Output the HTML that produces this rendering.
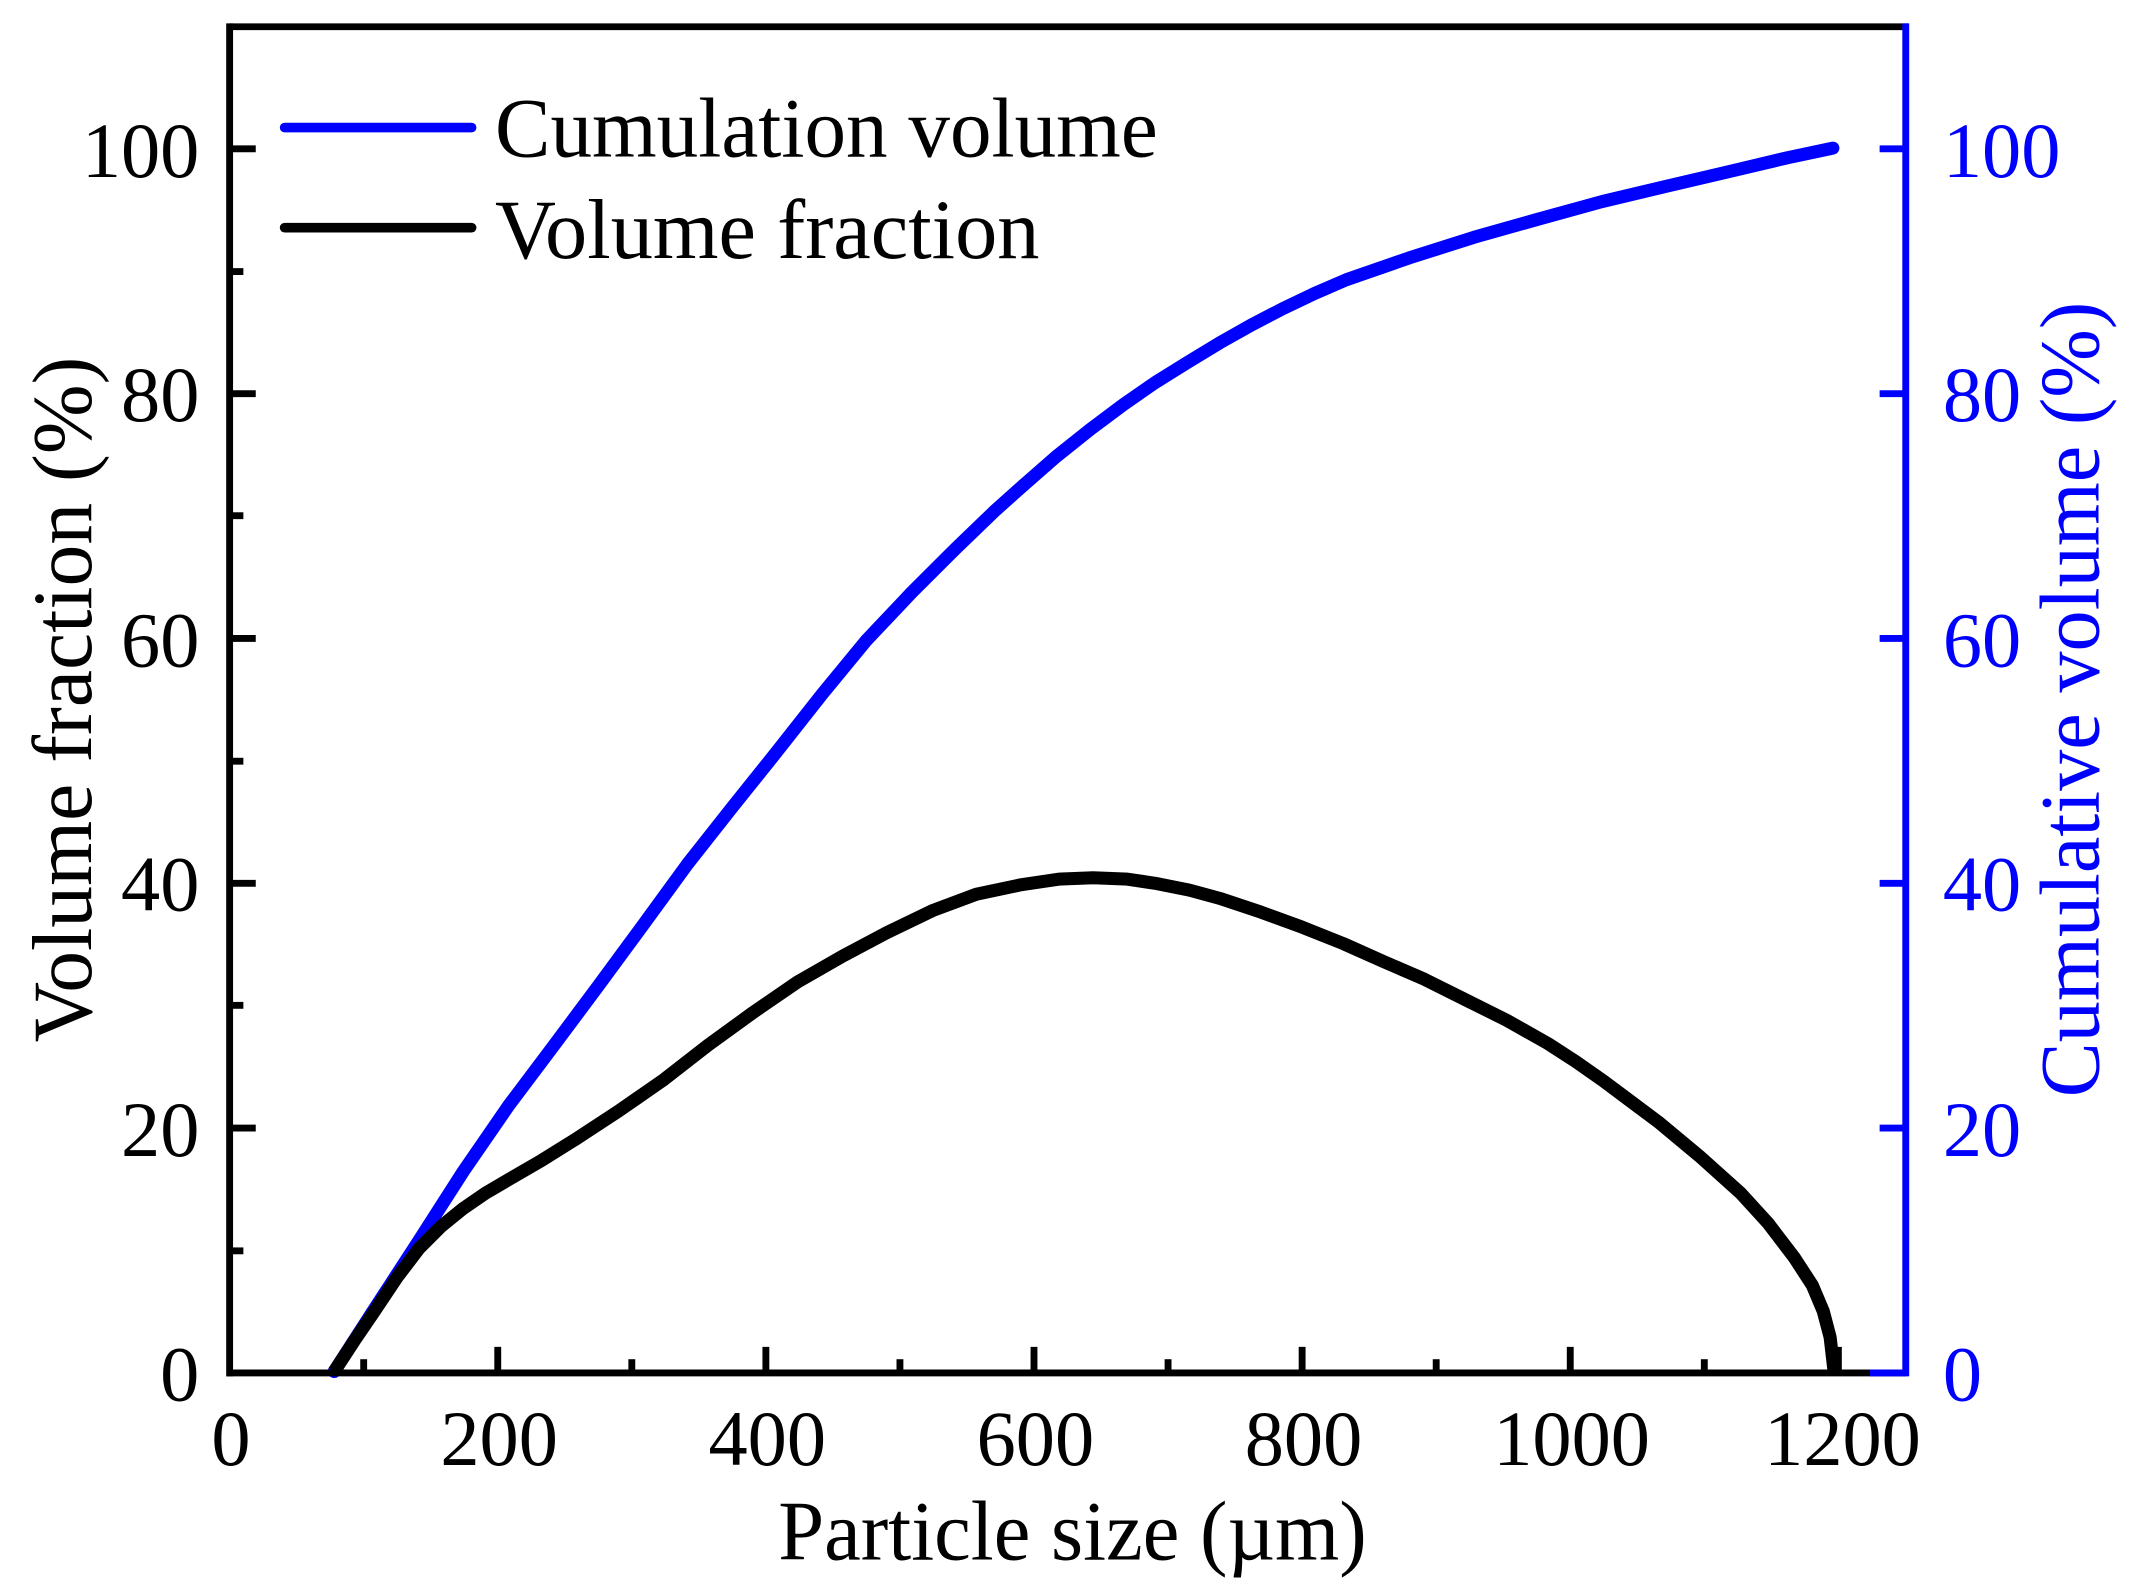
<!DOCTYPE html>
<html><head><meta charset="utf-8"><style>html,body{margin:0;padding:0;background:#fff}svg{display:block}</style></head><body>
<svg width="2145" height="1591" viewBox="0 0 1560 1160" preserveAspectRatio="none" xmlns="http://www.w3.org/2000/svg" font-family="Liberation Serif, serif">
<rect width="1560" height="1160" fill="#fff"/>
<polyline points="243,1000 270,958 305,904 337,854 370,806 403,762 435,719 468,674 500,630 533,588 565,548 598,506 630,467 663,432 695,400 724,372 743,355 768,333 793,313 817,295 840,279 864,264 887,250 910,237 933,225 956,214 979,204 1025,188 1072,173 1118,160 1165,147 1211,136 1258,125 1300,115 1333,108" fill="none" stroke="#0000ff" stroke-width="9.5" stroke-linejoin="round" stroke-linecap="round"/>
<polyline points="243,1000 258,977 273,955 289,931 305,910 321,894 337,881 353,870 370,860 394,846 418,831 450,810 483,787 515,762 548,738 580,716 613,697 645,680 678,664 710,652 743,645 770,641 795,640 820,641 840,644 865,649 887,655 917,665 947,676 977,688 1006,701 1036,714 1066,729 1096,744 1126,761 1146,774 1166,788 1186,803 1206,818 1236,843 1266,870 1286,892 1305,917 1318,937 1326,956 1331,975 1334,1001" fill="none" stroke="#000" stroke-width="9.5" stroke-linejoin="round"/>
<g stroke="#000" stroke-width="5" fill="none">
<line x1="167" y1="19.5" x2="1388" y2="19.5"/>
<line x1="167" y1="17" x2="167" y2="1003.5"/>
<line x1="165" y1="1001" x2="1386" y2="1001"/>
<line x1="167" y1="822.5" x2="186" y2="822.5"/><line x1="167" y1="644" x2="186" y2="644"/><line x1="167" y1="465.5" x2="186" y2="465.5"/><line x1="167" y1="287" x2="186" y2="287"/><line x1="167" y1="108.5" x2="186" y2="108.5"/>
<line x1="167" y1="912" x2="177" y2="912"/><line x1="167" y1="733" x2="177" y2="733"/><line x1="167" y1="555" x2="177" y2="555"/><line x1="167" y1="376" x2="177" y2="376"/><line x1="167" y1="198" x2="177" y2="198"/>
<line x1="362" y1="1001" x2="362" y2="982"/><line x1="557" y1="1001" x2="557" y2="982"/><line x1="752" y1="1001" x2="752" y2="982"/><line x1="947" y1="1001" x2="947" y2="982"/><line x1="1142" y1="1001" x2="1142" y2="982"/><line x1="1337" y1="1001" x2="1337" y2="982"/>
<line x1="264.5" y1="1001" x2="264.5" y2="991"/><line x1="459.5" y1="1001" x2="459.5" y2="991"/><line x1="654.5" y1="1001" x2="654.5" y2="991"/><line x1="849.5" y1="1001" x2="849.5" y2="991"/><line x1="1044.5" y1="1001" x2="1044.5" y2="991"/><line x1="1239.5" y1="1001" x2="1239.5" y2="991"/>
</g>
<g stroke="#0000ff" stroke-width="5" fill="none">
<line x1="1386" y1="17" x2="1386" y2="1003.5"/>
<line x1="1360" y1="1001" x2="1386" y2="1001"/>
<line x1="1367" y1="822.5" x2="1386" y2="822.5"/><line x1="1367" y1="644" x2="1386" y2="644"/><line x1="1367" y1="465.5" x2="1386" y2="465.5"/><line x1="1367" y1="287" x2="1386" y2="287"/><line x1="1367" y1="108.5" x2="1386" y2="108.5"/>
</g>
<g font-size="57" text-anchor="end" fill="#000">
<text x="145" y="1021">0</text><text x="145" y="843">20</text><text x="145" y="664">40</text><text x="145" y="486">60</text><text x="145" y="307">80</text><text x="145" y="129">100</text>
</g>
<g font-size="57" text-anchor="start" fill="#0000ff">
<text x="1413" y="1021">0</text><text x="1413" y="843">20</text><text x="1413" y="664">40</text><text x="1413" y="486">60</text><text x="1413" y="307">80</text><text x="1413" y="129">100</text>
</g>
<g font-size="57" text-anchor="middle" fill="#000">
<text x="168" y="1068">0</text><text x="363" y="1068">200</text><text x="558" y="1068">400</text><text x="753" y="1068">600</text><text x="948" y="1068">800</text><text x="1143" y="1068">1000</text><text x="1340" y="1068">1200</text>
</g>
<text x="780" y="1137" font-size="62" text-anchor="middle" textLength="428" lengthAdjust="spacingAndGlyphs">Particle size (µm)</text>
<text transform="translate(66,510) rotate(-90)" font-size="62" text-anchor="middle" textLength="500" lengthAdjust="spacingAndGlyphs">Volume fraction (%)</text>
<text transform="translate(1526,510) rotate(-90)" font-size="62" fill="#0000ff" text-anchor="middle" textLength="580" lengthAdjust="spacingAndGlyphs">Cumulative volume (%)</text>
<line x1="207" y1="93" x2="343" y2="93" stroke="#0000ff" stroke-width="7" stroke-linecap="round"/>
<line x1="207" y1="166" x2="343" y2="166" stroke="#000" stroke-width="7" stroke-linecap="round"/>
<text x="360" y="114" font-size="62" textLength="482" lengthAdjust="spacingAndGlyphs">Cumulation volume</text>
<text x="360" y="188" font-size="62" textLength="396" lengthAdjust="spacingAndGlyphs">Volume fraction</text>
</svg>
</body></html>
